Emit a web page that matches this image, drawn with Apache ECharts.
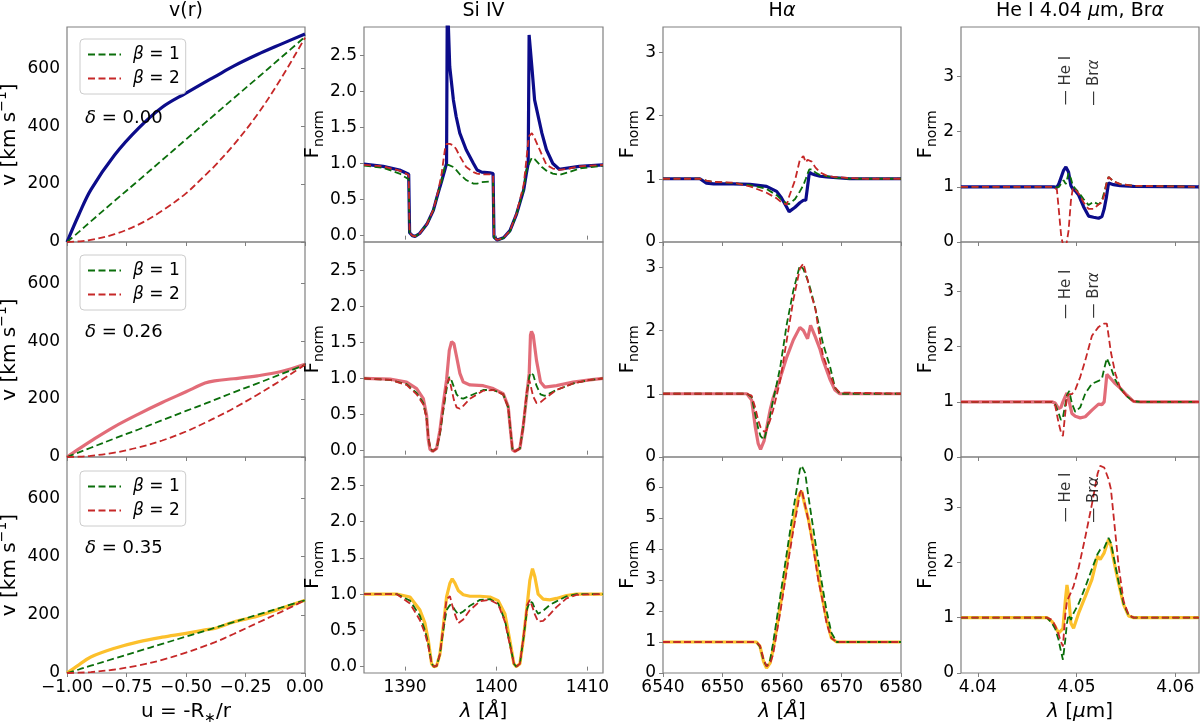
<!DOCTYPE html>
<html><head><meta charset="utf-8">
<script src="https://cdn.jsdelivr.net/npm/echarts@6/dist/echarts.min.js"></script>
<style>html,body{margin:0;padding:0;background:#fff}#c{width:1200px;height:722px}</style>
</head><body><div id="c"></div>
<script>
// ---------------- DATA ----------------
// Column 1: v(r) versus u = -R*/r
const U = [-1, -0.95, -0.9, -0.8, -0.7, -0.6, -0.5, -0.42, -0.38, -0.3, -0.2, -0.1, 0];
const V_D000    = [0, 95, 180, 300, 392, 465, 514, 552, 570, 607, 647, 683, 718];
const V_D000_B1 = [0, 35, 71, 142, 212, 283, 354, 411, 439, 496, 566, 637, 708];
const V_D000_B2 = [0, 2, 7, 27, 60, 108, 168, 230, 262, 335, 440, 565, 705];
const V_D026    = [0, 28, 55, 105, 148, 188, 225, 255, 263, 270, 280, 295, 320];
const V_D026_B1 = [0, 16, 32, 64, 95, 127, 159, 184, 197, 223, 254, 286, 318];
const V_D026_B2 = [0, 1, 4, 15, 33, 57, 88, 118, 134, 168, 215, 265, 318];
const V_D035    = [0, 28, 55, 85, 107, 123, 136, 148, 153, 175, 195, 222, 250];
const V_D035_B1 = [0, 12, 25, 50, 75, 100, 125, 145, 155, 175, 200, 225, 250];
const V_D035_B2 = [0, 1, 3, 12, 26, 45, 70, 93, 105, 134, 172, 210, 250];

// Column 2: Si IV
const SI1_LAM = [1385.5, 1387.6, 1389.4, 1390.4, 1390.5, 1390.8, 1391.1, 1391.6, 1392.4, 1393.1, 1393.6, 1394.0, 1394.4, 1394.55, 1394.62, 1394.75, 1394.9, 1395.3, 1395.6, 1396.0, 1396.7, 1397.5, 1397.9, 1398.4, 1399.3, 1399.65, 1399.75, 1400.1, 1400.8, 1401.5, 1402.2, 1403.0, 1403.3, 1403.5, 1403.6, 1403.9, 1404.2, 1405.0, 1405.5, 1406.2, 1406.9, 1408.0, 1409.1, 1411.7];
const SI1_F    = [0.99, 0.96, 0.91, 0.85, 0.04, 0.00, -0.01, 0.03, 0.16, 0.35, 0.58, 0.75, 0.93, 1.0, 2.95, 2.9, 2.34, 1.88, 1.65, 1.42, 1.19, 1.0, 0.91, 0.88, 0.87, 0.86, -0.02, -0.06, -0.03, 0.07, 0.29, 0.63, 0.86, 1.0, 2.78, 2.34, 1.88, 1.42, 1.19, 1.0, 0.92, 0.94, 0.96, 0.98];
const SI1_F_B1 = [0.97, 0.94, 0.86, 0.78, 0.03, 0.0, -0.01, 0.03, 0.16, 0.35, 0.58, 0.75, 0.98, 0.97, 0.97, 0.98, 0.97, 0.95, 0.91, 0.85, 0.77, 0.72, 0.72, 0.74, 0.75, 0.75, -0.02, -0.07, -0.03, 0.06, 0.29, 0.63, 0.9, 0.97, 0.95, 1.08, 1.06, 0.95, 0.9, 0.86, 0.84, 0.88, 0.93, 0.97];
const SI1_F_B2 = [0.98, 0.96, 0.9, 0.84, 0.04, 0.0, -0.01, 0.03, 0.16, 0.36, 0.6, 0.85, 1.22, 1.27, 1.28, 1.28, 1.27, 1.25, 1.2, 1.1, 0.95, 0.88, 0.86, 0.85, 0.85, 0.84, -0.02, -0.06, -0.03, 0.07, 0.3, 0.7, 1.05, 1.3, 1.38, 1.42, 1.35, 1.12, 0.98, 0.93, 0.91, 0.93, 0.96, 0.98];

const SI2_LAM = [1385.5, 1388.35, 1390.17, 1391.27, 1392.0, 1392.36, 1392.55, 1392.73, 1393.02, 1393.46, 1393.82, 1394.19, 1394.55, 1394.85, 1395.1, 1395.36, 1395.65, 1396.01, 1396.38, 1397.11, 1398.57, 1399.67, 1400.76, 1401.31, 1401.56, 1401.78, 1402.04, 1402.59, 1402.95, 1403.32, 1403.61, 1403.75, 1403.86, 1404.05, 1404.41, 1404.85, 1405.32, 1406.6, 1408.43, 1410.25, 1411.7];
const SI2_F    = [1.0, 0.99, 0.95, 0.86, 0.72, 0.49, 0.15, 0.02, -0.01, 0.03, 0.28, 0.65, 0.98, 1.39, 1.51, 1.48, 1.3, 1.07, 0.95, 0.91, 0.9, 0.86, 0.79, 0.61, 0.28, 0.01, -0.01, 0.03, 0.33, 0.75, 1.07, 1.6, 1.65, 1.6, 1.25, 0.95, 0.88, 0.9, 0.95, 0.98, 1.0];
const SI2_F_B1 = [1.0, 0.98, 0.92, 0.8, 0.66, 0.45, 0.2, 0.05, -0.01, 0.03, 0.23, 0.55, 0.85, 1.02, 0.97, 0.88, 0.78, 0.73, 0.72, 0.76, 0.84, 0.84, 0.78, 0.6, 0.28, 0.01, -0.01, 0.03, 0.33, 0.75, 1.02, 1.08, 1.1, 1.05, 0.9, 0.78, 0.76, 0.84, 0.93, 0.98, 1.0];
const SI2_F_B2 = [1.0, 0.98, 0.91, 0.78, 0.64, 0.45, 0.2, 0.05, -0.01, 0.03, 0.25, 0.6, 0.92, 1.0, 0.85, 0.7, 0.6, 0.58, 0.62, 0.72, 0.83, 0.84, 0.78, 0.6, 0.28, 0.01, -0.01, 0.03, 0.35, 0.8, 0.98, 0.92, 0.85, 0.75, 0.66, 0.67, 0.72, 0.84, 0.93, 0.98, 1.0];

const SI3_LAM = [1385.5, 1389.08, 1390.54, 1391.63, 1392.18, 1392.55, 1392.91, 1393.17, 1393.46, 1393.82, 1394.19, 1394.55, 1394.92, 1395.17, 1395.47, 1395.83, 1396.38, 1397.11, 1398.21, 1399.3, 1400.21, 1400.94, 1401.49, 1401.93, 1402.2, 1402.59, 1402.95, 1403.39, 1403.68, 1403.97, 1404.23, 1404.59, 1405.14, 1405.87, 1406.6, 1407.7, 1408.79, 1411.7];
const SI3_F    = [1.0, 1.0, 0.96, 0.78, 0.6, 0.36, 0.04, 0.0, 0.01, 0.17, 0.55, 0.96, 1.15, 1.21, 1.15, 1.05, 0.99, 0.97, 0.97, 0.96, 0.91, 0.73, 0.36, 0.04, 0.0, 0.04, 0.36, 0.85, 1.19, 1.35, 1.24, 1.0, 0.93, 0.92, 0.94, 0.98, 1.0, 1.0];
const SI3_F_B1 = [1.0, 1.0, 0.91, 0.7, 0.5, 0.32, 0.04, 0.0, 0.01, 0.17, 0.5, 0.78, 0.85, 0.84, 0.78, 0.72, 0.76, 0.84, 0.92, 0.93, 0.87, 0.64, 0.32, 0.04, 0.0, 0.04, 0.36, 0.8, 0.9, 0.88, 0.8, 0.73, 0.77, 0.85, 0.9, 0.97, 1.0, 1.0];
const SI3_F_B2 = [1.0, 1.0, 0.87, 0.64, 0.46, 0.28, 0.04, 0.0, 0.01, 0.17, 0.55, 0.93, 0.97, 0.85, 0.72, 0.6, 0.65, 0.78, 0.9, 0.92, 0.86, 0.62, 0.3, 0.04, 0.0, 0.04, 0.38, 0.85, 0.92, 0.82, 0.72, 0.62, 0.63, 0.72, 0.82, 0.94, 0.99, 1.0];

// Column 3: H alpha
const HA1_LAM = [6540.0, 6546.2, 6547.3, 6548.5, 6551.8, 6554.6, 6557.4, 6559.1, 6559.9, 6560.8, 6561.2, 6562.2, 6563.0, 6563.6, 6564.0, 6564.3, 6564.6, 6565.0, 6565.6, 6566.4, 6567.5, 6568.6, 6571.4, 6574.2, 6580.0];
const HA1_F    = [1.0, 1.0, 0.93, 0.92, 0.92, 0.91, 0.88, 0.8, 0.7, 0.55, 0.48, 0.55, 0.62, 0.66, 0.66, 0.67, 1.1, 1.08, 1.06, 1.04, 1.03, 1.02, 1.0, 1.0, 1.0];
const HA1_F_B1 = [1.0, 1.0, 0.97, 0.95, 0.93, 0.9, 0.84, 0.74, 0.67, 0.61, 0.6, 0.68, 0.8, 0.9, 1.0, 1.08, 1.15, 1.15, 1.1, 1.06, 1.04, 1.02, 1.0, 1.0, 1.0];
const HA1_F_B2 = [1.0, 1.0, 0.97, 0.95, 0.94, 0.88, 0.78, 0.69, 0.63, 0.59, 0.72, 0.98, 1.3, 1.36, 1.26, 1.3, 1.33, 1.27, 1.18, 1.1, 1.05, 1.03, 1.01, 1.0, 1.0];

const HA2_LAM = [6540.0, 6554.1, 6554.9, 6555.5, 6556.0, 6556.4, 6557.0, 6557.4, 6558.0, 6558.5, 6559.1, 6559.7, 6560.8, 6561.9, 6563.0, 6563.6, 6564.3, 6564.8, 6565.6, 6566.4, 6566.9, 6568.1, 6568.9, 6569.7, 6580.0];
const HA2_F    = [1.0, 1.0, 0.9, 0.48, 0.21, 0.12, 0.26, 0.45, 0.74, 0.93, 1.1, 1.25, 1.58, 1.85, 2.05, 2.0, 1.87, 2.08, 1.9, 1.7, 1.53, 1.22, 1.06, 1.0, 1.0];
const HA2_F_B1 = [1.0, 1.0, 0.95, 0.68, 0.45, 0.33, 0.27, 0.42, 0.65, 0.9, 1.15, 1.42, 2.1, 2.63, 3.03, 2.97, 2.8, 2.65, 2.35, 2.0, 1.79, 1.42, 1.1, 1.0, 1.0];
const HA2_F_B2 = [1.0, 1.0, 0.97, 0.78, 0.58, 0.47, 0.4, 0.42, 0.58, 0.74, 0.97, 1.21, 1.85, 2.48, 2.98, 3.06, 2.8, 2.6, 2.35, 1.85, 1.6, 1.3, 1.1, 1.02, 1.0];

const HA3_LAM = [6540.0, 6555.7, 6556.3, 6556.9, 6557.4, 6558.0, 6558.5, 6559.7, 6560.8, 6561.9, 6562.7, 6563.0, 6563.3, 6563.9, 6564.4, 6565.3, 6566.1, 6566.7, 6567.5, 6568.3, 6569.2, 6580.0];
const HA3_F    = [1.0, 1.0, 0.86, 0.37, 0.16, 0.32, 0.75, 2.15, 3.55, 4.84, 5.65, 5.8, 5.87, 5.37, 5.0, 4.08, 3.15, 2.5, 1.72, 1.13, 1.0, 1.0];
const HA3_F_B1 = [1.0, 1.0, 0.85, 0.4, 0.22, 0.42, 0.96, 2.47, 3.87, 5.27, 6.2, 6.56, 6.69, 6.45, 5.75, 4.6, 3.6, 2.9, 2.0, 1.3, 1.0, 1.0];
const HA3_F_B2 = [1.0, 1.0, 0.88, 0.45, 0.22, 0.3, 0.6, 1.95, 3.3, 4.6, 5.45, 5.8, 5.92, 5.4, 4.95, 3.98, 3.0, 2.45, 1.6, 1.12, 1.0, 1.0];

// Column 4: He I 4.04 um, Br alpha
const HE1_LAM = [4.0383, 4.04768, 4.04801, 4.04822, 4.04845, 4.04869, 4.04892, 4.04919, 4.04943, 4.04963, 4.04987, 4.05021, 4.05071, 4.05122, 4.05172, 4.05223, 4.05257, 4.0528, 4.05301, 4.05324, 4.05375, 4.05442, 4.05577, 4.0624];
const HE1_F    = [1.0, 1.0, 0.99, 1.06, 1.18, 1.3, 1.36, 1.27, 1.02, 0.96, 0.93, 0.85, 0.64, 0.47, 0.45, 0.43, 0.46, 0.6, 0.8, 1.07, 1.04, 1.02, 1.01, 1.0];
const HE1_F_B1 = [1.0, 1.0, 0.99, 1.0, 1.06, 1.12, 1.05, 1.25, 1.15, 1.02, 0.97, 0.9, 0.78, 0.67, 0.73, 0.68, 0.75, 0.9, 1.05, 1.18, 1.1, 1.05, 1.02, 1.0];
const HE1_F_B2 = [1.0, 1.0, 0.95, 0.55, 0.1, -0.1, -0.1, 0.2, 0.75, 0.98, 0.95, 0.88, 0.72, 0.6, 0.6, 0.68, 0.72, 0.85, 1.05, 1.18, 1.1, 1.05, 1.02, 1.0];

const HE2_LAM = [4.0383, 4.04751, 4.04784, 4.04818, 4.04842, 4.04862, 4.04886, 4.04903, 4.04926, 4.04953, 4.04987, 4.05037, 4.05088, 4.05156, 4.05223, 4.05257, 4.0528, 4.05307, 4.05348, 4.05392, 4.05442, 4.0551, 4.05577, 4.05645, 4.0624];
const HE2_F    = [1.0, 1.0, 0.98, 0.88, 0.9, 1.0, 1.1, 1.16, 1.0, 0.79, 0.74, 0.71, 0.73, 0.85, 0.96, 0.95, 1.0, 1.5, 1.42, 1.33, 1.25, 1.12, 1.01, 1.0, 1.0];
const HE2_F_B1 = [1.0, 1.0, 0.95, 0.8, 0.67, 0.72, 0.95, 1.12, 1.2, 0.97, 0.82, 0.9, 1.15, 1.33, 1.38, 1.42, 1.6, 1.79, 1.62, 1.4, 1.25, 1.1, 1.01, 1.0, 1.0];
const HE2_F_B2 = [1.0, 1.0, 0.93, 0.62, 0.45, 0.38, 0.8, 1.1, 1.14, 1.14, 1.22, 1.45, 1.75, 2.2, 2.36, 2.4, 2.42, 2.42, 1.9, 1.52, 1.25, 1.1, 1.01, 1.0, 1.0];

const HE3_LAM = [4.0383, 4.047, 4.04751, 4.04784, 4.04818, 4.04835, 4.04862, 4.04886, 4.04903, 4.04919, 4.04943, 4.0497, 4.05021, 4.05088, 4.05156, 4.05213, 4.0524, 4.0528, 4.05324, 4.05348, 4.05392, 4.05425, 4.05476, 4.05527, 4.05577, 4.0624];
const HE3_F    = [1.0, 1.0, 0.93, 0.84, 0.72, 0.7, 0.8, 1.3, 1.59, 1.4, 0.9, 0.81, 1.08, 1.38, 1.69, 2.11, 2.05, 2.17, 2.41, 2.3, 1.9, 1.63, 1.24, 1.03, 1.0, 1.0];
const HE3_F_B1 = [1.0, 1.0, 0.9, 0.8, 0.6, 0.45, 0.24, 0.6, 0.9, 1.05, 0.96, 1.08, 1.25, 1.55, 1.88, 2.15, 2.23, 2.26, 2.44, 2.35, 1.95, 1.65, 1.25, 1.04, 1.0, 1.0];
const HE3_F_B2 = [1.0, 1.0, 0.96, 0.85, 0.7, 0.6, 0.48, 1.05, 1.3, 1.33, 1.45, 1.57, 1.9, 2.45, 3.05, 3.6, 3.74, 3.71, 3.5, 3.32, 2.54, 1.95, 1.3, 1.05, 1.0, 1.0];

// Line markers in the He I / Br alpha panels
const HE_MARK_LAM = [4.0489, 4.0518];
const HE_MARK_TXT = ['— He I', '— Br{i|α}'];
const HE_MARK_F = [[2.93, 2.89], [2.95, 2.93], [3.17, 3.13]];

// Labels
const DELTA_TXT = ['0.00', '0.26', '0.35'];
const LEGEND_NAMES = ['β = 1', 'β = 2'];
const COL_TITLES = ['v(r)', 'Si IV', 'H{i|α}', 'He I 4.04 {i|μ}m, Br{i|α}'];

// Axis ranges and ticks
const X_RANGE = [[-1, 0], [1385.5, 1411.7], [6540, 6580], [4.0383, 4.0624]];
const X_TICKS = [[-1, -0.75, -0.5, -0.25, 0], [1390, 1400, 1410], [6540, 6550, 6560, 6570, 6580], [4.04, 4.05, 4.06]];
const Y_RANGE = [
  [[0, 742], [-0.088, 2.89], [0, 3.4], [0, 3.9]],
  [[0, 742], [-0.088, 2.89], [0, 3.4], [0, 3.9]],
  [[0, 742], [-0.088, 2.89], [0, 6.97], [0, 3.9]]
];
const Y_TICKS = [
  [[0, 200, 400, 600], [0, 0.5, 1, 1.5, 2, 2.5], [0, 1, 2, 3], [0, 1, 2, 3]],
  [[0, 200, 400, 600], [0, 0.5, 1, 1.5, 2, 2.5], [0, 1, 2, 3], [0, 1, 2, 3]],
  [[0, 200, 400, 600], [0, 0.5, 1, 1.5, 2, 2.5], [0, 1, 2, 3, 4, 5, 6], [0, 1, 2, 3]]
];

const PANELS = [
  [{x: U, y: [V_D000, V_D000_B1, V_D000_B2]}, {x: SI1_LAM, y: [SI1_F, SI1_F_B1, SI1_F_B2]}, {x: HA1_LAM, y: [HA1_F, HA1_F_B1, HA1_F_B2]}, {x: HE1_LAM, y: [HE1_F, HE1_F_B1, HE1_F_B2]}],
  [{x: U, y: [V_D026, V_D026_B1, V_D026_B2]}, {x: SI2_LAM, y: [SI2_F, SI2_F_B1, SI2_F_B2]}, {x: HA2_LAM, y: [HA2_F, HA2_F_B1, HA2_F_B2]}, {x: HE2_LAM, y: [HE2_F, HE2_F_B1, HE2_F_B2]}],
  [{x: U, y: [V_D035, V_D035_B1, V_D035_B2]}, {x: SI3_LAM, y: [SI3_F, SI3_F_B1, SI3_F_B2]}, {x: HA3_LAM, y: [HA3_F, HA3_F_B1, HA3_F_B2]}, {x: HE3_LAM, y: [HE3_F, HE3_F_B1, HE3_F_B2]}]
];

// ---------------- STYLE / LAYOUT ----------------
const FONT = 'DejaVu Sans';
const TXT = '#000000';
const SPINE = '#808080';
const SOLID_COLORS = ['#0c0c8a', '#df5f6d', '#fcc02c'];
const GREEN = '#0b6e0b', RED = '#c62828';
const COL_LEFT = [67, 364, 663, 961], COL_W = [238, 239, 238, 238];
const ROW_TOP = [27, 242, 457], ROW_H = [215, 215, 216];
const Y_NAME_GAP = [42, 37, 17, 17];
const TICK_FS = 17;

const rs = (o) => Object.assign({fontFamily: FONT, color: TXT}, o);
const RICH20 = {
  a: rs({fontSize: 20, lineHeight: 24}),
  i: rs({fontSize: 20, lineHeight: 24, fontStyle: 'italic'}),
  sup: rs({fontSize: 14, lineHeight: 14, padding: [0, 0, 14, 0]}),
  sub: rs({fontSize: 14, lineHeight: 14, padding: [12, 0, 0, 0]})
};

const fmtX = [
  v => (v < 0 ? '\u2212' : '') + Math.abs(v).toFixed(2),
  v => String(Math.round(v)),
  v => String(Math.round(v)),
  v => v.toFixed(2)
];
const fmtY = [
  v => String(Math.round(v)),
  v => v.toFixed(1),
  v => String(Math.round(v)),
  v => String(Math.round(v))
];
const X_NAMES = ['{a|u = -R}{sub|\u2217}{a|/r}', '{i|λ}{a| [}{i|Å}{a|]}', '{i|λ}{a| [}{i|Å}{a|]}', '{i|λ}{a| [}{i|μ}{a|m]}'];
const Y_NAMES = ['{a|v [km s}{sup|\u22121}{a|]}', '{a|F}{sub|norm}', '{a|F}{sub|norm}', '{a|F}{sub|norm}'];

const grids = [], xAxes = [], yAxes = [], series = [];
for (let r = 0; r < 3; r++) {
  for (let c = 0; c < 4; c++) {
    const i = r * 4 + c;
    grids.push({left: COL_LEFT[c], top: ROW_TOP[r], width: COL_W[c], height: ROW_H[r],
      show: true, borderColor: SPINE, borderWidth: 1.2, backgroundColor: 'transparent',
      containLabel: false, outerBoundsMode: 'none'});
    xAxes.push({
      type: 'value', gridIndex: i, min: X_RANGE[c][0], max: X_RANGE[c][1],
      axisLine: {show: false}, splitLine: {show: false},
      axisTick: {show: true, length: 4, lineStyle: {color: SPINE}, customValues: X_TICKS[c]},
      axisLabel: {show: r === 2, customValues: X_TICKS[c], formatter: fmtX[c], color: TXT, fontFamily: FONT, fontSize: TICK_FS, margin: 6},
      name: r === 2 ? X_NAMES[c] : '', nameLocation: 'middle', nameGap: 27,
      nameTextStyle: {fontFamily: FONT, fontSize: 20, color: TXT, rich: RICH20}
    });
    yAxes.push({
      type: 'value', gridIndex: i, min: Y_RANGE[r][c][0], max: Y_RANGE[r][c][1],
      axisLine: {show: false}, splitLine: {show: false},
      axisTick: {show: true, length: 4, lineStyle: {color: SPINE}, customValues: Y_TICKS[r][c]},
      axisLabel: {show: true, customValues: Y_TICKS[r][c], formatter: fmtY[c], color: TXT, fontFamily: FONT, fontSize: TICK_FS, margin: 7},
      name: Y_NAMES[c], nameLocation: 'middle', nameGap: Y_NAME_GAP[c],
      nameTextStyle: {fontFamily: FONT, fontSize: 20, color: TXT, rich: RICH20}
    });
    const p = PANELS[r][c];
    p.y.forEach((ys, k) => {
      const col = k === 0 ? SOLID_COLORS[r] : (k === 1 ? GREEN : RED);
      series.push({
        type: 'line', name: k === 0 ? ('model-' + r) : LEGEND_NAMES[k - 1],
        xAxisIndex: i, yAxisIndex: i,
        data: p.x.map((x, j) => [x, ys[j]]),
        smooth: c === 0 ? 0.35 : false,
        showSymbol: false, symbol: 'none', animation: false, clip: true, z: 2 + k,
        itemStyle: {color: col},
        lineStyle: k === 0 ? {color: col, width: 3.2, opacity: r === 1 ? 0.92 : 1} : {color: col, width: 1.8, type: [7, 3.5]}
      });
    });
  }
  // He I / Br alpha markers
  series.push({
    type: 'scatter', xAxisIndex: r * 4 + 3, yAxisIndex: r * 4 + 3, silent: true, animation: false,
    symbol: 'circle', symbolSize: 1, itemStyle: {color: 'rgba(0,0,0,0)'}, z: 10,
    data: HE_MARK_LAM.map((x, j) => ({value: [x, HE_MARK_F[r][j]], txt: HE_MARK_TXT[j]})),
    label: {show: true, position: 'inside', rotate: 90, fontFamily: FONT, fontSize: 15, color: '#000',
      formatter: p => p.data.txt, rich: {i: {fontFamily: FONT, fontSize: 15, color: '#000', fontStyle: 'italic'}}}
  });
}

const titles = [];
COL_TITLES.forEach((t, c) => titles.push({
  text: t, left: COL_LEFT[c] + COL_W[c] / 2, top: 2, textAlign: 'center', padding: 0,
  textStyle: {fontFamily: FONT, fontSize: 19, fontWeight: 'normal', color: TXT,
    rich: {i: rs({fontSize: 19, fontStyle: 'italic'})}}
}));
const DELTA_TOP = [109, 323, 539];
DELTA_TXT.forEach((d, r) => titles.push({
  text: '{i|δ}{a| = ' + d + '}', left: 85, top: DELTA_TOP[r], padding: 0,
  textStyle: {fontFamily: FONT, fontSize: 18, fontWeight: 'normal', color: TXT,
    rich: {i: rs({fontSize: 18, fontStyle: 'italic'}), a: rs({fontSize: 18})}}
}));

const LEG_TOP = [39, 255, 471];
const legends = LEG_TOP.map(t => ({
  left: 80, top: t, orient: 'vertical', data: LEGEND_NAMES, selectedMode: false,
  itemWidth: 33, itemHeight: 12, itemGap: 7, padding: [7, 6, 7, 7],
  itemStyle: {opacity: 0, borderWidth: 0},
  borderColor: '#cccccc', borderWidth: 1, borderRadius: 4, backgroundColor: 'rgba(255,255,255,0.8)',
  formatter: n => '{i|β}{a| = ' + n.slice(-1) + '}',
  textStyle: {fontFamily: FONT, fontSize: 17, color: TXT, padding: [0, 0, 0, 7],
    rich: {i: rs({fontSize: 17, fontStyle: 'italic'}), a: rs({fontSize: 17})}}
}));

const chart = echarts.init(document.getElementById('c'), null, {renderer: 'canvas', width: 1200, height: 722});
chart.setOption({
  animation: false,
  backgroundColor: '#ffffff',
  textStyle: {fontFamily: FONT},
  title: titles,
  legend: legends,
  grid: grids,
  xAxis: xAxes,
  yAxis: yAxes,
  series: series
});
</script></body></html>
